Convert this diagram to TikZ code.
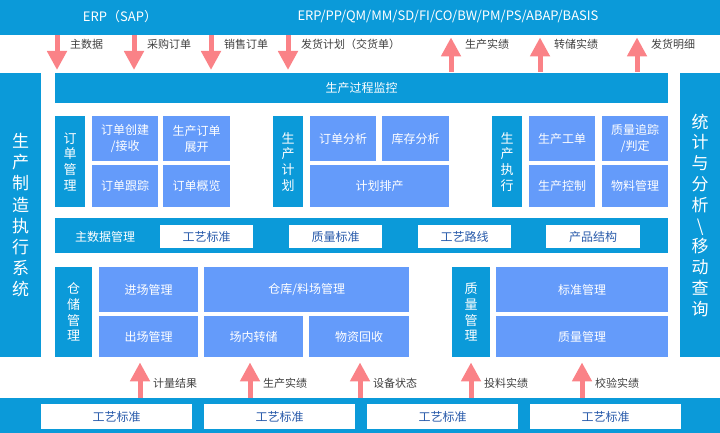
\documentclass[tikz,border=0pt]{standalone}
\usepackage{fontspec}
\setmainfont{Noto Sans CJK SC}
\usetikzlibrary{arrows.meta}
\definecolor{mesblue}{RGB}{11,154,217}
\definecolor{modblue}{RGB}{100,155,250}
\definecolor{flowpink}{RGB}{250,130,135}
\definecolor{stdtext}{RGB}{40,90,170}

\begin{document}
\begin{tikzpicture}[x=1pt, y=-1pt, font=\fontsize{12}{16}\selectfont,
  band/.style={fill=mesblue, text=white, inner sep=0pt, anchor=north west, align=center},
  cell/.style={fill=modblue, text=white, inner sep=0pt, anchor=north west, align=center},
  stdbox/.style={fill=white, text=stdtext, inner sep=0pt, anchor=north west},
  vlabel/.style={band, font=\fontsize{13}{15.6}\selectfont},
  sidelabel/.style={text=white, align=center, font=\fontsize{17}{21.2}\selectfont},
  flow/.style={draw=flowpink, line width=5pt, -{Triangle[width=19pt,length=19pt]}},
  flowtext/.style={text=black!75, font=\fontsize{11}{13}\selectfont, anchor=west, inner sep=0pt}]
  \useasboundingbox (0,0) rectangle (720,433);

  % ERP on top
  \node[band, minimum width=720pt, minimum height=35pt] (erp) at (0,0) {};
  \node[text=white, font=\fontsize{13}{15}\selectfont] (sap) at (120,17) {ERP（SAP）};
  \node[text=white, font=\fontsize{13}{15}\selectfont] (sapmods) at (448,17) {ERP/PP/QM/MM/SD/FI/CO/BW/PM/PS/ABAP/BASIS};

  % side bars and monitoring
  \node[band, minimum width=41pt, minimum height=284pt] (mesbar) at (0,73) {};
  \node[sidelabel] (meslbl) at (mesbar.center) {生\\产\\制\\造\\执\\行\\系\\统};
  \node[band, minimum width=40pt, minimum height=284pt] (statbar) at (680,73) {};
  \node[sidelabel, font=\fontsize{17}{20.8}\selectfont] (statlbl) at (statbar.center) {统\\计\\与\\分\\析\\\textbackslash\\移\\动\\查\\询};
  \node[band, minimum width=613pt, minimum height=30pt] (monitor) at (55,73) {生产过程监控};

  % order / plan / execution
  \node[vlabel, minimum width=30pt, minimum height=91pt] (ordmgr) at (55,116) {订\\单\\管\\理};
  \node[cell, minimum width=66pt, minimum height=45pt] (ordcreate) at (92,116) {订单创建\\/接收};
  \node[cell, minimum width=67pt, minimum height=45pt] (ordexpand) at (163,116) {生产订单\\展开};
  \node[cell, minimum width=66pt, minimum height=42pt] (ordtrack) at (92,165) {订单跟踪};
  \node[cell, minimum width=67pt, minimum height=42pt] (ordview) at (163,165) {订单概览};

  \node[vlabel, minimum width=30pt, minimum height=91pt] (plan) at (273,116) {生\\产\\计\\划};
  \node[cell, minimum width=66pt, minimum height=45pt] (ordana) at (310,116) {订单分析};
  \node[cell, minimum width=67pt, minimum height=45pt] (stockana) at (382,116) {库存分析};
  \node[cell, minimum width=139pt, minimum height=42pt] (sched) at (310,165) {计划排产};

  \node[vlabel, minimum width=30pt, minimum height=91pt] (exec) at (492,116) {生\\产\\执\\行};
  \node[cell, minimum width=66pt, minimum height=45pt] (workord) at (529,116) {生产工单};
  \node[cell, minimum width=66pt, minimum height=45pt] (qtrace) at (602,116) {质量追踪\\/判定};
  \node[cell, minimum width=66pt, minimum height=42pt] (prodctl) at (529,165) {生产控制};
  \node[cell, minimum width=66pt, minimum height=42pt] (material) at (602,165) {物料管理};

  % master data
  \node[band, minimum width=613pt, minimum height=35pt] (mdbar) at (55,218) {};
  \node[text=white] (mdlbl) at (105,237) {主数据管理};
  \node[stdbox, minimum width=93pt, minimum height=23pt] (techstd) at (160,225) {工艺标准};
  \node[stdbox, minimum width=93pt, minimum height=23pt] (qualstd) at (289,225) {质量标准};
  \node[stdbox, minimum width=93pt, minimum height=23pt] (route) at (418,225) {工艺路线};
  \node[stdbox, minimum width=94pt, minimum height=23pt] (bom) at (546,225) {产品结构};

  % warehouse / quality
  \node[vlabel, minimum width=37pt, minimum height=90pt] (ware) at (55,267) {仓\\储\\管\\理};
  \node[cell, minimum width=99pt, minimum height=45pt] (inbound) at (99,267) {进场管理};
  \node[cell, minimum width=205pt, minimum height=45pt] (yard) at (204,267) {仓库/料场管理};
  \node[cell, minimum width=99pt, minimum height=41pt] (outbound) at (99,316) {出场管理};
  \node[cell, minimum width=99pt, minimum height=41pt] (transfer) at (204,316) {场内转储};
  \node[cell, minimum width=100pt, minimum height=41pt] (recycle) at (309,316) {物资回收};

  \node[vlabel, minimum width=38pt, minimum height=90pt] (qmgr) at (452,267) {质\\量\\管\\理};
  \node[cell, minimum width=172pt, minimum height=45pt] (stdmgr) at (496,267) {标准管理};
  \node[cell, minimum width=172pt, minimum height=41pt] (qualmgr) at (496,316) {质量管理};

  % field level at the bottom
  \node[band, minimum width=720pt, minimum height=35pt] (field) at (0,398) {};
  \foreach \x/\n in {41/fa, 204/fb, 367/fc, 530/fd}
    \node[stdbox, minimum width=151pt, minimum height=25pt] (\n) at (\x,404) {工艺标准};

  % data flows
  \foreach \x/\t in {57/主数据, 134/采购订单, 211/销售订单, 288/发货计划（交货单）} {
    \draw[flow, shorten >=3pt] (\x,0 |- erp.south) -- (\x,0 |- monitor.north);
    \node[flowtext] (down\x) at (\x+13,44) {\t};
  }
  \foreach \x/\t in {451/生产实绩, 540/转储实绩, 637/发货明细} {
    \draw[flow, shorten >=2pt, shorten <=1pt] (\x,0 |- monitor.north) -- (\x,0 |- erp.south);
    \node[flowtext] (up\x) at (\x+14,44) {\t};
  }
  \foreach \x/\t in {140/计量结果, 250/生产实绩, 360/设备状态, 471/投料实绩, 582/校验实绩} {
    \draw[flow, shorten >=5pt] (\x,0 |- field.north) -- (\x,0 |- ware.south);
    \node[flowtext] (in\x) at (\x+13,383) {\t};
  }
\end{tikzpicture}
\end{document}
